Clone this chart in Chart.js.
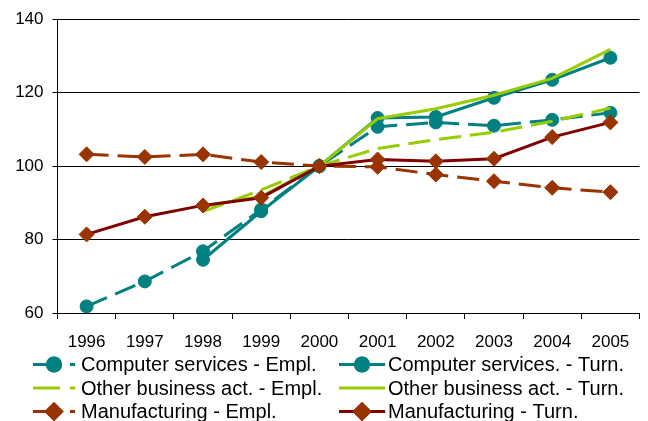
<!DOCTYPE html>
<html>
<head>
<meta charset="utf-8">
<script src="https://cdn.jsdelivr.net/npm/chart.js@4/dist/chart.umd.min.js"></script>
<style>
  body { margin: 0; background: #fff; }
  #wrap { width: 648px; height: 421px; }
</style>
</head>
<body>
<div id="wrap"><canvas id="chart" width="648" height="421"></canvas></div>
<script>
// Index values (2000 = 100)
const years = ['1996', '1997', '1998', '1999', '2000', '2001', '2002', '2003', '2004', '2005'];
const compEmpl = [61.8, 68.6, 76.8, 88.2, 100, 110.7, 111.9, 111.0, 112.6, 114.5];
const compTurn = [null, null, 74.5, 87.7, 100, 113.1, 113.4, 118.6, 123.5, 129.5];
const otherEmpl = [null, null, 87.6, 93.5, 100, 104.8, 107.2, 109.2, 112.2, 115.8];
const otherTurn = [null, null, 89.0, 91.8, 100, 112.9, 115.6, 119.3, 123.9, 131.8];
const manuEmpl = [103.2, 102.5, 103.2, 101.1, 100, 99.8, 97.7, 95.9, 94.1, 92.9];
const manuTurn = [81.4, 86.2, 89.3, 91.4, 100, 101.8, 101.3, 102.0, 107.9, 111.9];
const seriesLabels = [
    'Computer services - Empl.', 'Computer services. - Turn.',
    'Other business act. - Empl.', 'Other business act. - Turn.',
    'Manufacturing - Empl.', 'Manufacturing - Turn.'
];

const TEAL = '#008080', GREEN = '#99CC00', BROWN = '#993300', DARKRED = '#800000';
const DASH = [22, 9];
const FONT = 'Liberation Sans, Arial, sans-serif';

function series(i, data, color, markerColor, dashed, style) {
    return {
        label: seriesLabels[i],
        data: data,
        borderColor: color,
        backgroundColor: markerColor,
        borderWidth: 3,
        borderDash: dashed ? DASH : [],
        pointStyle: style || 'circle',
        pointRadius: style === false ? 0 : (style === 'rectRot' ? 7.5 : 6.5),
        pointBorderColor: markerColor,
        pointBackgroundColor: markerColor,
        pointBorderWidth: 1,
        tension: 0,
        order: 6 - i, // later series drawn on top, like Excel
        dashed: dashed
    };
}

// Two-column legend under the plot
const legendGrid = {
    id: 'legendGrid',
    afterDraw(chart) {
        const ctx = chart.ctx;
        const rows = [364.5, 388, 411.5];
        chart.data.datasets.forEach((ds, i) => {
            const col = i % 2, row = Math.floor(i / 2);
            const y = rows[row];
            const x0 = col === 0 ? 33 : 339;
            const x1 = col === 0 ? 75 : 385;
            const mx = col === 0 ? 54 : 362;
            const tx = col === 0 ? 81 : 388;
            ctx.save();
            ctx.strokeStyle = ds.borderColor;
            ctx.lineWidth = 3;
            ctx.setLineDash(ds.dashed ? [27, 10] : []);
            ctx.beginPath();
            ctx.moveTo(x0, y);
            ctx.lineTo(x1, y);
            ctx.stroke();
            ctx.setLineDash([]);
            if (ds.pointRadius > 0) {
                Chart.helpers.drawPoint(ctx, {
                    pointStyle: ds.pointStyle,
                    radius: ds.pointRadius,
                    borderWidth: 1
                }, mx, y);
                ctx.fillStyle = ds.pointBackgroundColor;
                ctx.strokeStyle = ds.pointBorderColor;
                ctx.fill();
                ctx.stroke();
            }
            ctx.fillStyle = '#000';
            ctx.font = '20px ' + FONT;
            ctx.textBaseline = 'middle';
            ctx.textAlign = 'left';
            ctx.fillText(ds.label, tx, y + 1);
            ctx.restore();
        });
    }
};

new Chart(document.getElementById('chart'), {
    type: 'line',
    data: {
        labels: years,
        datasets: [
            series(0, compEmpl, TEAL, TEAL, true),
            series(1, compTurn, TEAL, TEAL, false),
            series(2, otherEmpl, GREEN, GREEN, true, false),
            series(3, otherTurn, GREEN, GREEN, false, false),
            series(4, manuEmpl, BROWN, BROWN, true, 'rectRot'),
            series(5, manuTurn, DARKRED, BROWN, false, 'rectRot')
        ]
    },
    options: {
        responsive: false,
        animation: false,
        layout: { padding: { top: 11, right: 0, bottom: 68, left: 0 } },
        plugins: { legend: { display: false }, tooltip: { enabled: false } },
        scales: {
            x: {
                offset: true,
                grid: { offset: true, drawOnChartArea: false, drawTicks: true, tickLength: 6, color: '#000' },
                border: { color: '#000', width: 1 },
                ticks: { color: '#000', font: { family: FONT, size: 17 }, padding: 13, maxRotation: 0, autoSkip: false },
                afterFit(scale) { scale.height = 40; }
            },
            y: {
                min: 60,
                max: 140,
                ticks: { stepSize: 20, color: '#000', font: { family: FONT, size: 17 }, padding: 9 },
                grid: { color: '#000', lineWidth: 1, tickLength: 5, drawTicks: true },
                border: { color: '#000', width: 1 },
                afterFit(scale) { scale.width = 57.5; }
            }
        }
    },
    plugins: [legendGrid]
});
</script>
</body>
</html>
